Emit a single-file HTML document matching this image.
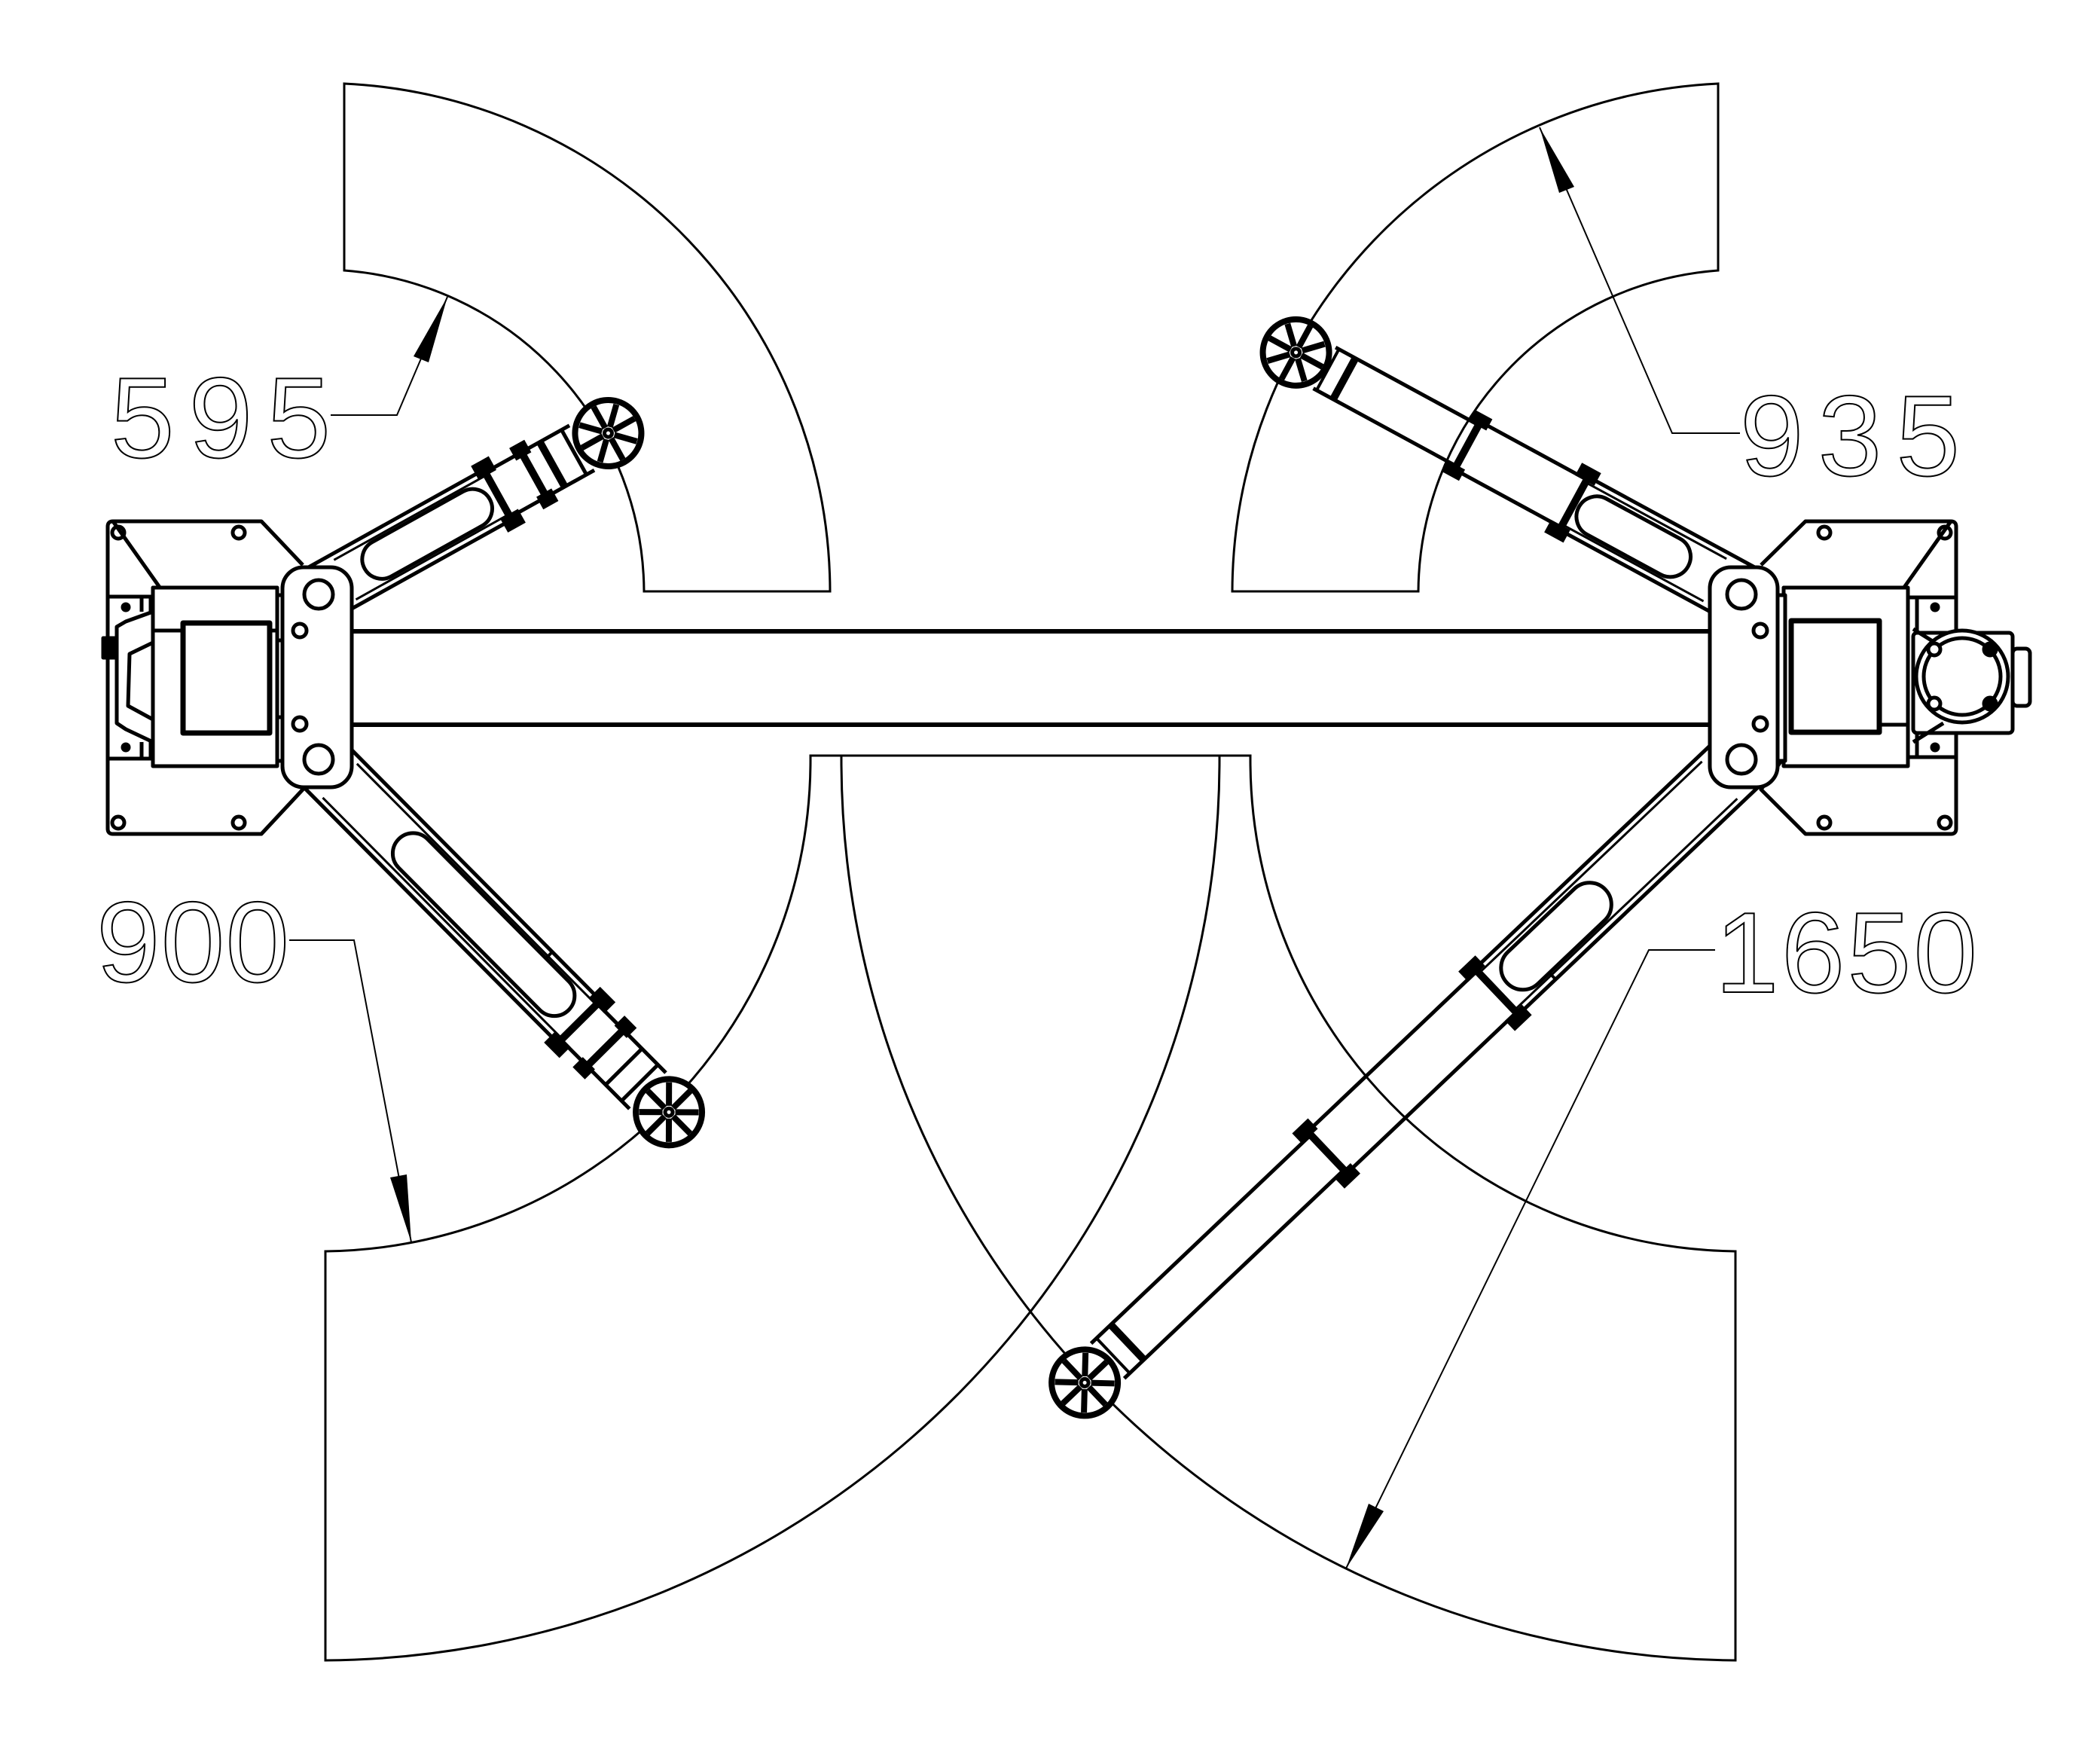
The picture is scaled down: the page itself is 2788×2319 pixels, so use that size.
<!DOCTYPE html>
<html><head><meta charset="utf-8"><style>
html,body{margin:0;padding:0;background:#fff}
svg{display:block}
</style></head><body>
<svg width="2788" height="2319" viewBox="0 0 2788 2319" xmlns="http://www.w3.org/2000/svg">
<defs>
<g id="pad">
<circle r="44" fill="#fff" stroke="#000" stroke-width="8"/>
<g stroke="#000" stroke-width="8">
<line x1="0" y1="-40" x2="0" y2="-8"/><line x1="0" y1="40" x2="0" y2="8"/>
<line x1="-40" y1="0" x2="-8" y2="0"/><line x1="40" y1="0" x2="8" y2="0"/>
<line x1="-28" y1="-28" x2="-6" y2="-6"/><line x1="28" y1="28" x2="6" y2="6"/>
<line x1="28" y1="-28" x2="6" y2="-6"/><line x1="-28" y1="28" x2="-6" y2="6"/>
</g>
<circle r="5" fill="#fff"/>
</g>
</defs>

<g fill="none" stroke="#000" stroke-width="3">
<path d="M457,111 A677,677 0 0,1 1102,785 L855,785 A430,430 0 0,0 457,359 Z"/>
<path d="M2281,111 A677,677 0 0,0 1636,785 L1883,785 A430,430 0 0,1 2281,359 Z"/>
<path d="M1076,1003 A653,653 0 0,1 432,1661 L432,2204 A1196,1196 0 0,0 1619,1003 Z"/>
<path d="M1660,1003 A653,653 0 0,0 2304,1661 L2304,2204 A1196,1196 0 0,1 1117,1003 Z"/>
</g>

<g fill="none" stroke="#000" stroke-width="2">
<polyline points="439,551 527,551 594,394"/>
<polyline points="2310,575 2220,575 2044,169"/>
<polyline points="384,1248 470,1248 546,1649"/>
<polyline points="2277,1261 2189,1261 1787,2082"/>
</g>
<g fill="#000">
<polygon points="594,394 569,481 549,473"/>
<polygon points="2044,169 2090,248 2070,256"/>
<polygon points="546,1649 540,1559 518,1563"/>
<polygon points="1787,2082 1837,2006 1817,1996"/>
</g>
<g font-family="Liberation Sans, sans-serif" font-size="152" fill="none" stroke="#000" stroke-width="2">
<text x="147" y="607" textLength="292" lengthAdjust="spacing">595</text>
<text x="2310" y="631" textLength="292" lengthAdjust="spacing">935</text>
<text x="128" y="1303" textLength="256" lengthAdjust="spacing">900</text>
<text x="2277" y="1317" textLength="348" lengthAdjust="spacing">1650</text>
</g>

<g fill="none" stroke="#000" stroke-width="5">
<g transform="translate(423,789) rotate(-29.1)">
<path d="M0,-38 H272 M0,38 H272"/>
<path d="M40,-30 H272 M40,30 H272" stroke-width="3"/>
<rect x="70" y="-26" width="190" height="52" rx="26"/>
<path d="M272,-34 H400 M272,34 H400"/>
<rect x="262" y="-48" width="22" height="16" fill="#000"/><rect x="262" y="32" width="22" height="16" fill="#000"/>
<rect x="318" y="-44" width="18" height="14" fill="#000"/><rect x="318" y="30" width="18" height="14" fill="#000"/>
<line x1="272" y1="-38" x2="272" y2="38" stroke-width="10"/>
<line x1="327" y1="-34" x2="327" y2="34" stroke-width="10"/>
<line x1="355" y1="-32" x2="355" y2="32" stroke-width="10"/>
<line x1="388" y1="-32" x2="388" y2="32" stroke-width="5"/>
<use href="#pad" x="440" y="0"/>
</g>
<g transform="translate(423,1008) rotate(45.2)">
<path d="M0,-40 H491 M0,40 H491"/>
<path d="M40,-32 H491 M40,32 H491" stroke-width="3"/>
<rect x="150" y="-28" width="320" height="54" rx="27"/>
<line x1="400" y1="-28" x2="400" y2="-40" stroke-width="4"/>
<path d="M491,-34 H620 M491,34 H620"/>
<rect x="480" y="-50" width="24" height="16" fill="#000"/><rect x="480" y="34" width="24" height="16" fill="#000"/>
<rect x="530" y="-46" width="18" height="14" fill="#000"/><rect x="530" y="32" width="18" height="14" fill="#000"/>
<line x1="491" y1="-40" x2="491" y2="40" stroke-width="10"/>
<line x1="540" y1="-34" x2="540" y2="34" stroke-width="10"/>
<line x1="575" y1="-32" x2="575" y2="32" stroke-width="5"/>
<line x1="605" y1="-32" x2="605" y2="32" stroke-width="5"/>
<use href="#pad" x="660" y="0"/>
</g>
<g transform="translate(2312,789) rotate(-151.5)">
<path d="M0,-40 H253 M0,40 H253"/>
<path d="M40,-32 H253 M40,32 H253" stroke-width="3"/>
<rect x="80" y="-28" width="165" height="54" rx="27"/>
<path d="M253,-36 H414 M253,36 H414"/>
<rect x="243" y="-50" width="24" height="14" fill="#000"/><rect x="243" y="36" width="24" height="14" fill="#000"/>
<line x1="253" y1="-40" x2="253" y2="40" stroke-width="10"/>
<path d="M414,-31 H630 M414,31 H630"/>
<rect x="404" y="-44" width="22" height="12" fill="#000"/><rect x="404" y="32" width="22" height="12" fill="#000"/>
<line x1="414" y1="-36" x2="414" y2="36" stroke-width="10"/>
<line x1="600" y1="-31" x2="600" y2="31" stroke-width="10"/>
<line x1="625" y1="-31" x2="625" y2="31" stroke-width="4"/>
<use href="#pad" x="673" y="0"/>
</g>
<g transform="translate(2312,1008) rotate(136.5)">
<path d="M0,-42 H448 M0,42 H448"/>
<path d="M40,-34 H448 M40,34 H448" stroke-width="3"/>
<rect x="250" y="-30" width="180" height="58" rx="29"/>
<line x1="380" y1="-30" x2="380" y2="-42" stroke-width="4"/>
<path d="M448,-38 H758 M448,38 H758"/>
<rect x="438" y="-52" width="26" height="14" fill="#000"/><rect x="438" y="38" width="26" height="14" fill="#000"/>
<line x1="448" y1="-42" x2="448" y2="42" stroke-width="10"/>
<path d="M758,-32 H1160 M758,32 H1160"/>
<rect x="748" y="-48" width="24" height="14" fill="#000"/><rect x="748" y="34" width="24" height="14" fill="#000"/>
<line x1="758" y1="-38" x2="758" y2="38" stroke-width="10"/>
<line x1="1124" y1="-32" x2="1124" y2="32" stroke-width="10"/>
<line x1="1150" y1="-32" x2="1150" y2="32" stroke-width="4"/>
<use href="#pad" x="1202" y="0"/>
</g>
</g>

<g fill="none" stroke="#000" stroke-width="6">
<line x1="467" y1="838" x2="2270" y2="838"/>
<line x1="467" y1="962" x2="2270" y2="962"/>
</g>

<g fill="none" stroke="#000" stroke-width="5" stroke-linejoin="round">
<path d="M150,692 H347 L402,750 M402,1048 L347,1107 H150 Q143,1107 143,1100 V699 Q143,692 150,692 Z" fill="#fff"/>
<path d="M143,792 H205 M143,1007 H205"/>
<path d="M188,792 V812 M188,985 V1007 M200,792 V1007"/>
<path d="M203,812 L167,825 L155,832 V960 L167,968 L203,985" fill="#fff"/>
<path d="M203,853 L172,868 L170,937 L203,955"/>
<rect x="137" y="847" width="16" height="26" fill="#000"/>
<circle cx="167" cy="806" r="4" fill="#000"/><circle cx="167" cy="992" r="4" fill="#000"/>
<circle cx="157" cy="707" r="8"/><circle cx="317" cy="707" r="8"/>
<circle cx="157" cy="1092" r="8"/><circle cx="317" cy="1092" r="8"/>
<rect x="203" y="780" width="165" height="237" fill="#fff"/>
<path d="M203,837 H243 M358,837 H368"/>
<rect x="243" y="827" width="115" height="146" stroke-width="7"/>
<rect x="368" y="790" width="14" height="220" fill="#fff"/>
<path d="M368,850 H382 M368,952 H382"/>
<rect x="375" y="753" width="92" height="292" rx="28" fill="#fff"/>
<circle cx="423" cy="789" r="19"/><circle cx="423" cy="1008" r="19"/>
<circle cx="398" cy="837" r="9"/><circle cx="398" cy="961" r="9"/>
</g>

<g fill="none" stroke="#000" stroke-width="5" stroke-linejoin="round">
<path d="M2590,692 H2397 L2338,750 M2338,1048 L2397,1107 H2590 Q2597,1107 2597,1100 V699 Q2597,692 2590,692 Z" fill="#fff"/>
<path d="M2533,793 H2597 M2533,1005 H2597"/>
<path d="M2545,793 V1005"/>
<circle cx="2569" cy="806" r="4" fill="#000"/><circle cx="2569" cy="992" r="4" fill="#000"/>
<circle cx="2422" cy="707" r="8"/><circle cx="2582" cy="707" r="8"/>
<circle cx="2422" cy="1092" r="8"/><circle cx="2582" cy="1092" r="8"/>
<rect x="2540" y="840" width="132" height="133" rx="5" fill="#fff"/>
<rect x="2672" y="861" width="23" height="76" rx="6" fill="#fff"/>
<path d="M2540,835 L2580,860 M2540,985 L2580,960"/>
<circle cx="2605" cy="898" r="61" fill="#fff"/>
<circle cx="2605" cy="898" r="51"/>
<circle cx="2568" cy="862" r="8" fill="#fff"/><circle cx="2642" cy="862" r="8" fill="#000"/>
<circle cx="2568" cy="934" r="8" fill="#fff"/><circle cx="2642" cy="934" r="8" fill="#000"/>
<rect x="2368" y="780" width="165" height="237" fill="#fff"/>
<rect x="2378" y="824" width="117" height="148" stroke-width="7"/>
<path d="M2495,962 H2533"/>
<rect x="2358" y="790" width="12" height="220" fill="#fff"/>
<rect x="2270" y="753" width="90" height="292" rx="28" fill="#fff"/>
<circle cx="2312" cy="789" r="19"/><circle cx="2312" cy="1008" r="19"/>
<circle cx="2337" cy="837" r="9"/><circle cx="2337" cy="961" r="9"/>
</g>
</svg>
</body></html>
